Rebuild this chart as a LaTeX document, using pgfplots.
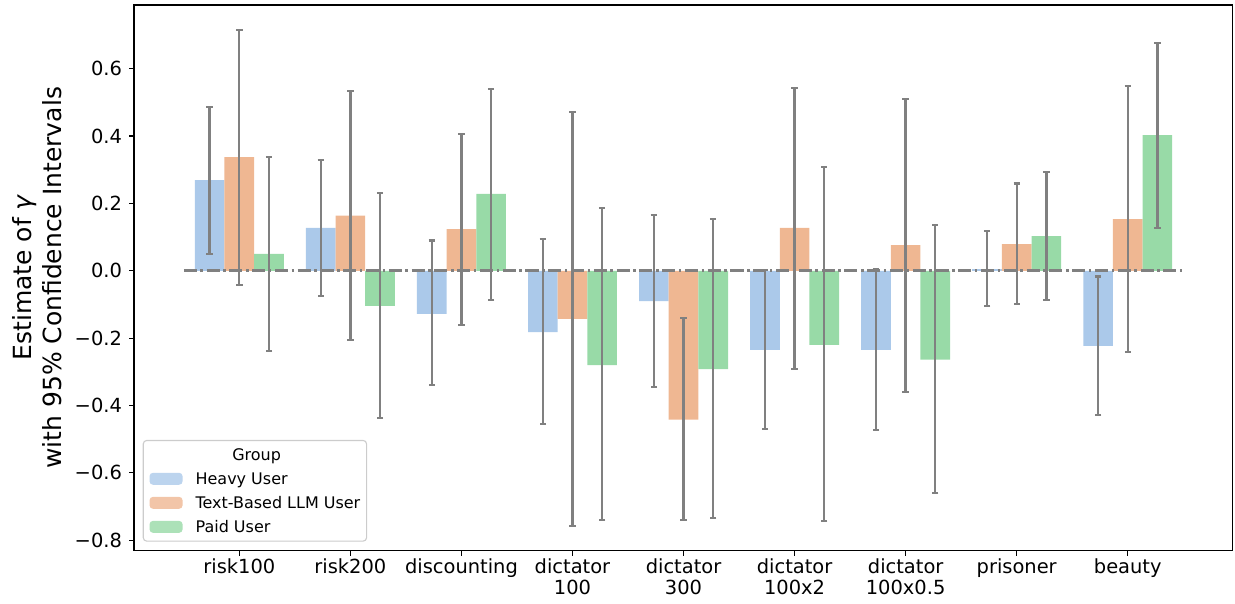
\documentclass[border=0pt]{standalone}
\usepackage{fontspec}
\setmainfont{DejaVu Sans}
\usepackage{pgfplots}
\usepackage{pgfplotstable}
\pgfplotsset{compat=1.18}
\definecolor{cheavy}{HTML}{ABC9EA}
\definecolor{ctext}{HTML}{EFB792}
\definecolor{cpaid}{HTML}{98DAA7}
\definecolor{errgray}{HTML}{808080}
\definecolor{leggray}{HTML}{CCCCCC}

\pgfplotstableread{
x y ep em
0 0.269 0.217 0.219
1 0.127 0.201 0.202
2 -0.128 0.218 0.212
3 -0.182 0.275 0.272
4 -0.090 0.256 0.255
5 -0.235 0.237 0.234
6 -0.235 0.240 0.237
7 0.005 0.113 0.110
8 -0.223 0.206 0.206
}\heavy

\pgfplotstableread{
x y ep em
0 0.3375 0.3775 0.3795
1 0.164 0.370 0.369
2 0.124 0.282 0.284
3 -0.143 0.615 0.614
4 -0.442 0.302 0.298
5 0.127 0.415 0.418
6 0.076 0.434 0.435
7 0.079 0.180 0.177
8 0.153 0.396 0.394
}\textbased

\pgfplotstableread{
x y ep em
0 0.050 0.287 0.288
1 -0.104 0.336 0.332
2 0.228 0.311 0.315
3 -0.280 0.467 0.460
4 -0.292 0.445 0.443
5 -0.220 0.529 0.523
6 -0.264 0.399 0.395
7 0.103 0.190 0.191
8 0.403 0.274 0.276
}\paid

\begin{document}
\begin{tikzpicture}
\begin{axis}[
  scale only axis, width=791pt, height=392.9pt,
  xmin=-0.948, xmax=8.945, ymin=-0.831, ymax=0.789,
  axis line style={black, line width=0.8pt},
  tick align=outside, major tick length=3.5pt,
  tick style={black, line width=0.8pt},
  xtick pos=left, ytick pos=left,
  xtick={0,1,2,3,4,5,6,7,8},
  xticklabels={risk100, risk200, discounting, {dictator\\100}, {dictator\\300}, {dictator\\100x2}, {dictator\\100x0.5}, prisoner, beauty},
  xticklabel style={font=\fontsize{14}{14.9}\selectfont, align=center, anchor=north, inner sep=0pt, yshift=-2pt},
  ytick={-0.8,-0.6,-0.4,-0.2,0,0.2,0.4,0.6},
  yticklabels={−0.8,−0.6,−0.4,−0.2,0.0,0.2,0.4,0.6},
  yticklabel style={font=\fontsize{14}{16.8}\selectfont, anchor=east, inner sep=0pt, xshift=-5pt},
  ylabel={Estimate of {\itshape γ}\\with 95\% Confidence Intervals},
  ylabel style={font=\fontsize{18}{21.6}\selectfont, align=center, at={(axis description cs:-0.0653,0.5)}, anchor=south, inner sep=0pt},
  ybar, bar width=0.267,
  error bars/y dir=both, error bars/y explicit,
  error bars/error mark=|,
  error bars/error bar style={errgray, line width=1.7pt},
  error bars/error mark options={errgray, line width=1.5pt, mark size=2.3pt},
  legend cell align=left,
  legend style={at={(axis description cs:0.0079,0.0165)}, anchor=south west,
    draw=leggray, line width=0.8pt, rounded corners=2.5pt, fill=white, fill opacity=0.8, text opacity=1,
    font=\fontsize{11.5}{13.8}\selectfont, inner xsep=4.5pt, inner ysep=4.3pt,
    row sep=5.3pt, column sep=9.4pt,
    nodes={inner sep=0pt, text height=10.3pt, text depth=1.7pt}},
]
\addlegendimage{empty legend}
\addlegendentry{\hspace*{26.4pt}Group}
\addplot[fill=cheavy, draw=none, bar shift=-0.267,
  legend image code/.code={\fill[cheavy] (0pt,-4.3pt) rectangle (23.8pt,4.3pt);}]
  table[x=x, y=y, y error plus=ep, y error minus=em] {\heavy};
\addlegendentry{Heavy User}
\addplot[fill=ctext, draw=none, bar shift=0,
  legend image code/.code={\fill[ctext] (0pt,-4.3pt) rectangle (23.8pt,4.3pt);}]
  table[x=x, y=y, y error plus=ep, y error minus=em] {\textbased};
\addlegendentry{Text-Based LLM User}
\addplot[fill=cpaid, draw=none, bar shift=0.267,
  legend image code/.code={\fill[cpaid] (0pt,-4.3pt) rectangle (23.8pt,4.3pt);}]
  table[x=x, y=y, y error plus=ep, y error minus=em] {\paid};
\addlegendentry{Paid User}
\addplot[sharp plot, forget plot, errgray, line width=2pt, dash pattern=on 9.4pt off 2.6pt on 1.8pt off 2.6pt]
  coordinates {(-0.5,0) (8.5,0)};
\end{axis}
\pgfresetboundingbox
\path[use as bounding box] ([shift={(-96.5pt,-37.65pt)}]current axis.south west) rectangle ([shift={(1.66pt,3.6pt)}]current axis.north east);
\end{tikzpicture}
\end{document}
